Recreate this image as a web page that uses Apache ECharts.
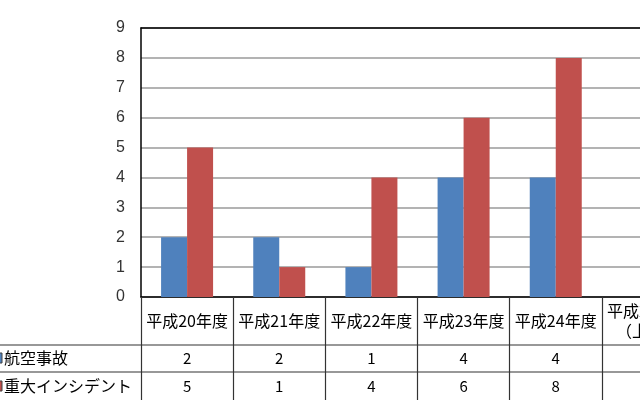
<!DOCTYPE html>
<html>
<head>
<meta charset="utf-8">
<script src="https://cdn.jsdelivr.net/npm/echarts@6/dist/echarts.min.js"></script>
<style>
html,body{margin:0;padding:0;background:#fff;overflow:hidden;}
#main{width:700px;height:400px;}
</style>
</head>
<body>
<div id="main"></div>
<script>
var categories = ['平成20年度','平成21年度','平成22年度','平成23年度','平成24年度','平成25年度\n（上期）'];
var seriesNames = ['航空事故','重大インシデント'];
var accidents = [2, 2, 1, 4, 4, null];
var incidents = [5, 1, 4, 6, 8, null];
var yTicks = [0, 9, 1];
var colors = ['#4F81BD', '#C0504D'];

var jp = '"Noto Sans CJK JP", "Noto Sans", sans-serif';
var tableLine = '#333333';

function rowAxis(values, offset) {
  return {
    type: 'category', gridIndex: 0, position: 'bottom', offset: offset,
    data: values.map(function (v) { return v == null ? '' : String(v); }),
    axisLine: { show: false }, axisTick: { show: false },
    axisLabel: { interval: 0, margin: 0, verticalAlign: 'middle', color: '#000', fontSize: 15, fontFamily: jp }
  };
}

var chart = echarts.init(document.getElementById('main'));
var option = {
  animation: false,
  backgroundColor: '#fff',
  grid: { left: 141, top: 28, right: 6, bottom: 103 },
  xAxis: [
    {
      type: 'category', data: categories, position: 'bottom',
      axisLine: { show: true, lineStyle: { color: '#000', width: 1.5 } },
      axisTick: { show: true, length: 104, lineStyle: { color: tableLine, width: 1.2 } },
      axisLabel: { interval: 0, margin: 24, verticalAlign: 'middle', color: '#000', fontSize: 16, lineHeight: 20, fontFamily: jp }
    },
    rowAxis(accidents, 61),
    rowAxis(incidents, 89),
    {
      type: 'category', data: categories, position: 'top',
      axisLine: { show: true, lineStyle: { color: '#000', width: 1.5 } },
      axisTick: { show: false }, axisLabel: { show: false }
    }
  ],
  yAxis: {
    type: 'value', min: yTicks[0], max: yTicks[1], interval: yTicks[2],
    axisLine: { show: true, lineStyle: { color: '#000', width: 1.5 } },
    axisTick: { show: false },
    axisLabel: { margin: 16, color: '#333', fontSize: 16, fontFamily: '"Liberation Sans", Arial, sans-serif' },
    splitLine: { lineStyle: { color: '#9a9a9a', width: 1.5 } }
  },
  series: [
    { name: seriesNames[0], type: 'bar', data: accidents, barWidth: 26, barGap: '0%', itemStyle: { color: colors[0] } },
    { name: seriesNames[1], type: 'bar', data: incidents, barWidth: 26, barGap: '0%', itemStyle: { color: colors[1] } }
  ]
};
chart.setOption(option);

// data-table row lines and row headers
var rowY = [358, 386];
var graphics = [
  { type: 'line', shape: { x1: 0, y1: 345, x2: 700, y2: 345 }, style: { stroke: tableLine, lineWidth: 1.2 } },
  { type: 'line', shape: { x1: 0, y1: 372, x2: 700, y2: 372 }, style: { stroke: tableLine, lineWidth: 1.2 } }
];
seriesNames.forEach(function (name, i) {
  graphics.push({ type: 'rect', shape: { x: -8, y: rowY[i] - 5, width: 10, height: 10 },
    style: { fill: colors[i], stroke: '#404040', lineWidth: 1 } });
  graphics.push({ type: 'text', x: 4, y: rowY[i],
    style: { text: name, fill: '#000', font: '16px ' + jp, verticalAlign: 'middle' } });
});
chart.setOption({ graphic: graphics });
</script>
</body>
</html>
